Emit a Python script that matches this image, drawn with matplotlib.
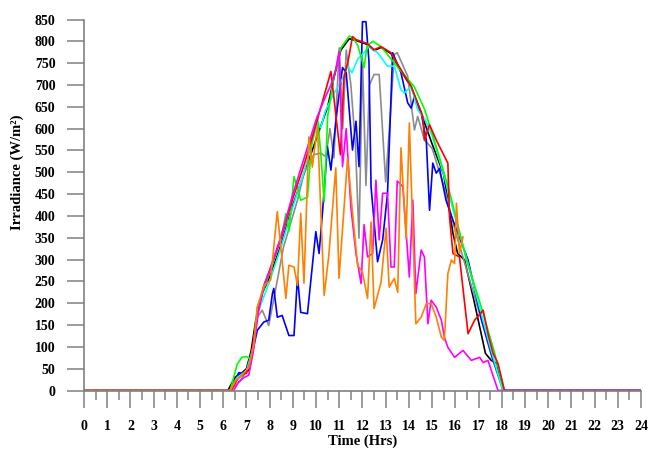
import matplotlib.pyplot as plt
from matplotlib.ticker import MultipleLocator

plt.rcParams['font.family'] = ['Liberation Serif', 'DejaVu Serif']
plt.rcParams['font.weight'] = 'bold'

# hours / irradiance (W/m2), one pair per series
black_t = [0, 6.2, 6.5, 6.8, 7.0, 7.2, 7.4, 7.7, 8.0, 8.5, 9.0, 9.5, 10.0, 10.5, 10.77, 11.07, 11.43,
           11.72, 11.94, 12.2, 12.5, 12.8, 13.23, 13.6, 14.1, 14.5, 15.0, 15.5, 15.9, 16.1, 16.4,
           16.8, 17.3, 17.55, 17.8, 18.05, 24]
black_v = [0, 0, 30, 40, 50, 90, 160, 225, 260, 335, 425, 500, 575, 650, 716, 780, 806,
           802, 798, 793, 779, 786, 772, 738, 695, 640, 565, 495, 360, 314, 299,
           207, 85, 69, 62, 0, 0]

gray_t = [0, 6.3, 6.75, 6.96, 7.18, 7.47, 7.68, 7.96, 8.18, 8.6, 9.2, 9.48, 9.9, 10.2, 10.42, 10.6,
          10.77, 11.0, 11.15, 11.3, 11.5, 11.7, 11.85, 12.0, 12.15, 12.3, 12.5, 12.72, 13.0, 13.23,
          13.37, 13.5, 13.95, 14.24, 14.38, 14.67, 15.0, 15.5, 16.0, 16.5, 17.0, 17.5, 18.05, 24]
gray_v = [0, 0, 23, 42, 65, 168, 184, 149, 210, 329, 436, 498, 540, 544, 536, 600,
          533, 785, 600, 780, 700, 560, 349, 760, 470, 700, 724, 724, 478, 655,
          770, 774, 720, 597, 628, 574, 555, 470, 365, 275, 185, 90, 0, 0]

blue_t = [0, 6.3, 6.67, 6.9, 7.1, 7.18, 7.47, 7.75, 7.96, 8.12, 8.18, 8.33, 8.54, 8.83, 9.05, 9.2,
          9.34, 9.63, 9.99, 10.13, 10.28, 10.49, 10.64, 10.77, 10.92, 11.14, 11.3, 11.57, 11.72,
          11.85, 12.0, 12.15, 12.28, 12.37, 12.65, 12.87, 13.08, 13.3, 13.66, 13.95, 14.1, 14.24,
          14.53, 14.75, 14.89, 15.03, 15.18, 15.32, 15.6, 15.9, 16.55, 17.1, 17.6, 18.08, 24]
blue_v = [0, 0, 41, 39, 46, 69, 138, 157, 161, 222, 234, 168, 172, 126, 126, 260,
          179, 176, 364, 314, 410, 559, 505, 574, 648, 740, 728, 551, 617,
          513, 845, 845, 754, 467, 295, 345, 452, 774, 728, 659, 647, 674,
          636, 574, 413, 521, 498, 509, 436, 390, 299, 168, 75, 0, 0]

cyan_t = [0, 6.3, 6.6, 7.0, 7.3, 7.5, 8.0, 8.5, 9.0, 9.5, 10.06, 10.2, 10.4, 10.77, 11.1, 11.36,
          11.55, 11.8, 12.07, 12.3, 12.5, 12.65, 13.08, 13.37, 13.66, 13.8, 14.1, 14.38, 14.7,
          15.0, 15.5, 16.0, 16.5, 17.0, 17.5, 18.05, 24]
cyan_v = [0, 0, 30, 45, 100, 180, 250, 330, 420, 505, 613, 602, 640, 681, 710, 743,
          728, 760, 774, 790, 780, 774, 743, 743, 689, 682, 697, 643, 620,
          585, 495, 395, 300, 200, 100, 0, 0]

green_t = [0, 6.3, 6.45, 6.6, 6.8, 7.0, 7.2, 7.3, 7.47, 8.0, 8.5, 8.7, 8.83, 9.05, 9.34, 9.63,
           9.8, 10.06, 10.2, 10.35, 10.5, 10.77, 11.07, 11.43, 11.6, 11.8, 12.07, 12.2, 12.45,
           12.8, 13.5, 14.23, 14.67, 14.96, 15.7, 16.48, 17.12, 17.7, 18.1, 24]
green_v = [0, 0, 30, 60, 76, 78, 70, 100, 191, 270, 350, 405, 365, 490, 436, 443,
           560, 628, 546, 432, 628, 720, 785, 812, 808, 790, 740, 790, 800,
           788, 742, 696, 645, 597, 466, 300, 191, 85, 0, 0]

red_t = [0, 6.35, 6.6, 6.8, 7.0, 7.2, 7.35, 7.5, 7.75, 8.0, 8.5, 9.0, 9.5, 10.0, 10.34, 10.64,
         10.85, 11.05, 11.2, 11.4, 11.57, 11.72, 11.94, 12.2, 12.5, 12.8, 13.23, 13.6, 14.1, 14.6,
         14.67, 14.89, 15.18, 15.32, 15.68, 15.75, 15.9, 16.18, 16.55, 16.83, 17.2, 17.41, 17.63,
         17.84, 18.12, 24]
red_v = [0, 0, 25, 35, 40, 70, 130, 185, 240, 275, 350, 440, 520, 610, 674, 731,
         632, 540, 716, 760, 811, 804, 800, 795, 781, 788, 774, 740, 697, 628,
         574, 609, 574, 559, 521, 398, 314, 306, 130, 161, 184, 130, 85,
         62, 0, 0]

magenta_t = [0, 6.45, 6.67, 6.9, 7.1, 7.3, 7.5, 7.75, 8.0, 8.5, 9.0, 9.5, 10.0, 10.3, 10.64, 10.85,
             10.99, 11.14, 11.3, 11.5, 11.72, 11.94, 12.07, 12.22, 12.44, 12.58, 12.72, 12.87, 13.08,
             13.23, 13.37, 13.5, 13.74, 14.02, 14.17, 14.3, 14.53, 14.67, 14.82, 14.96, 15.18, 15.4,
             15.53, 15.68, 15.97, 16.33, 16.69, 17.05, 17.2, 17.41, 17.84, 24]
magenta_v = [0, 0, 20, 30, 35, 90, 175, 240, 275, 355, 450, 535, 620, 660, 700, 735,
             777, 513, 600, 420, 314, 245, 380, 306, 314, 482, 345, 452, 452,
             283, 283, 480, 467, 260, 436, 222, 322, 306, 153, 207, 191, 161,
             122, 99, 76, 92, 69, 76, 64, 69, 0, 0]

orange_t = [0, 6.31, 6.53, 6.8, 7.1, 7.32, 7.47, 7.75, 8.04, 8.33, 8.7, 8.83, 9.05, 9.2, 9.34, 9.48,
            9.69, 9.84, 10.06, 10.35, 10.55, 10.85, 10.99, 11.36, 11.55, 11.79, 12.0, 12.22, 12.37,
            12.5, 12.8, 13.02, 13.15, 13.37, 13.52, 13.66, 13.88, 14.02, 14.3, 14.53, 14.75, 14.96,
            15.18, 15.4, 15.53, 15.68, 15.83, 15.97, 16.05, 16.18, 16.33]
orange_v = [0, 0, 23, 35, 53, 108, 191, 240, 253, 410, 211, 287, 283, 241, 406, 246,
            581, 512, 605, 218, 310, 510, 257, 533, 420, 287, 271, 211, 386,
            188, 248, 372, 237, 257, 225, 556, 349, 613, 153, 168, 199, 199,
            168, 122, 115, 268, 299, 291, 429, 314, 352]

series = [
    (black_t, black_v, '#000000'),
    (gray_t, gray_v, '#8c8c8c'),
    (blue_t, blue_v, '#0000ff'),
    (cyan_t, cyan_v, '#00ffff'),
    (green_t, green_v, '#00ff00'),
    (red_t, red_v, '#ff0000'),
    (magenta_t, magenta_v, '#ff00ff'),
    (orange_t, orange_v, '#ff8000'),
]

fig = plt.figure(figsize=(6.49, 4.51), dpi=100)
ax = fig.add_axes([0.1294, 0.1341, 0.8582, 0.8226])

for t, v, c in series:
    ax.plot(t, v, color=c, linewidth=1.2)

ax.set_xlim(0, 24)
ax.set_ylim(0, 850)
ax.xaxis.set_major_locator(MultipleLocator(1))
ax.xaxis.set_minor_locator(MultipleLocator(0.5))
ax.yaxis.set_major_locator(MultipleLocator(50))

for s in ['top', 'right']:
    ax.spines[s].set_visible(False)
for s in ['left', 'bottom']:
    ax.spines[s].set_color('#808080')
    ax.spines[s].set_linewidth(1.2)

ax.tick_params(axis='x', which='major', direction='out', length=12.5, width=1.1,
               color='#808080', pad=8.5, labelsize=10)
ax.tick_params(axis='x', which='minor', direction='out', length=6.5, width=1.1, color='#808080')
ax.tick_params(axis='y', direction='out', length=12, width=1.1, color='#808080',
               pad=8.5, labelsize=10)

ax.set_xlabel('Time (Hrs)', fontsize=10.5, fontweight='bold', labelpad=1)
ax.set_ylabel('Irradiance (W/m²)', fontsize=10.5, fontweight='bold')
ax.yaxis.set_label_coords(-0.108, 0.589)

fig.savefig('out.png', dpi=100)
